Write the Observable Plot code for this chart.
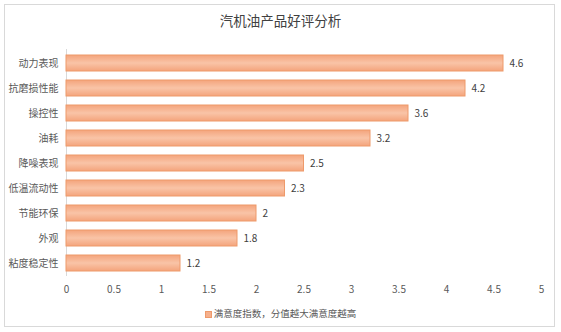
<!DOCTYPE html>
<html>
<head>
<meta charset="utf-8">
<script src="https://cdn.jsdelivr.net/npm/d3@7"></script>
<script src="https://cdn.jsdelivr.net/npm/@observablehq/plot@0.6"></script>
<style>
  html, body { margin: 0; padding: 0; background: #fff; }
  body { width: 561px; height: 332px; position: relative; overflow: hidden;
         font-family: "Noto Sans CJK SC", "Noto Sans", sans-serif; }
  #frame { position: absolute; left: 4px; top: 4px; width: 551px; height: 323px;
           border: 1px solid #d9d9d9; box-sizing: border-box; }
  #title { position: absolute; left: 0; width: 561px; top: 9px; text-align: center;
           font-size: 13.5px; color: #404040; line-height: 22px; }
  #chart { position: absolute; left: 0; top: 40px; }
  #legend { position: absolute; left: 0; width: 561px; top: 305px; text-align: center;
            font-size: 9.5px; color: #595959; line-height: 16px; }
  #legend .sw { display: inline-block; width: 7px; height: 7px; background: #F6B08C;
                border: 1px solid #EE9A6B; box-sizing: border-box; margin-right: 2px; vertical-align: -0.5px; }
</style>
</head>
<body>
<div id="frame"></div>
<div id="title">汽机油产品好评分析</div>
<div id="chart"></div>
<div id="legend"><span class="sw"></span>满意度指数，分值越大满意度越高</div>
<script>
const categories = ["动力表现","抗磨损性能","操控性","油耗","降噪表现","低温流动性","节能环保","外观","粘度稳定性"];
const values = [4.6, 4.2, 3.6, 3.2, 2.5, 2.3, 2, 1.8, 1.2];
const xTicks = [0, 0.5, 1, 1.5, 2, 2.5, 3, 3.5, 4, 4.5, 5];

const data = categories.map((c, i) => ({category: c, value: values[i]}));

const chart = Plot.plot({
  width: 561,
  height: 266,
  marginLeft: 66,
  marginRight: 20,
  marginTop: 9,
  marginBottom: 30,
  style: {fontFamily: '"Noto Sans CJK SC", "Noto Sans", sans-serif', background: "transparent", color: "#595959"},
  x: {domain: [0, 5], ticks: xTicks, tickSize: 0, tickPadding: 8, tickFormat: d => String(d), label: null},
  y: {domain: categories, paddingInner: 0.37, paddingOuter: 0.185, tickSize: 0, tickPadding: 8, label: null},
  marks: [
    Plot.axisX({ticks: xTicks, tickSize: 0, tickPadding: 9, tickFormat: d => String(d), fontSize: 10, label: null, color: "#595959"}),
    Plot.axisY({tickSize: 0, tickPadding: 8, fontSize: 10, label: null, color: "#595959"}),
    Plot.ruleX([0], {stroke: "#d9d9d9", strokeWidth: 1}),
    Plot.barX(data, {x: "value", y: "category", fill: "url(#barGrad)", stroke: "#EE9A6B", strokeWidth: 1}),
    Plot.text(data, {x: "value", y: "category", text: d => String(d.value), dx: 6, textAnchor: "start", fontSize: 10, fill: "#404040"})
  ]
});

const svg = d3.select(chart);
const defs = svg.insert("defs", ":first-child");
const g = defs.append("linearGradient").attr("id", "barGrad").attr("x1", 0).attr("y1", 0).attr("x2", 0).attr("y2", 1);
g.append("stop").attr("offset", "0%").attr("stop-color", "#F4A47C");
g.append("stop").attr("offset", "50%").attr("stop-color", "#F9C4A7");
g.append("stop").attr("offset", "100%").attr("stop-color", "#F4A47C");

document.getElementById("chart").appendChild(chart);
</script>
</body>
</html>
